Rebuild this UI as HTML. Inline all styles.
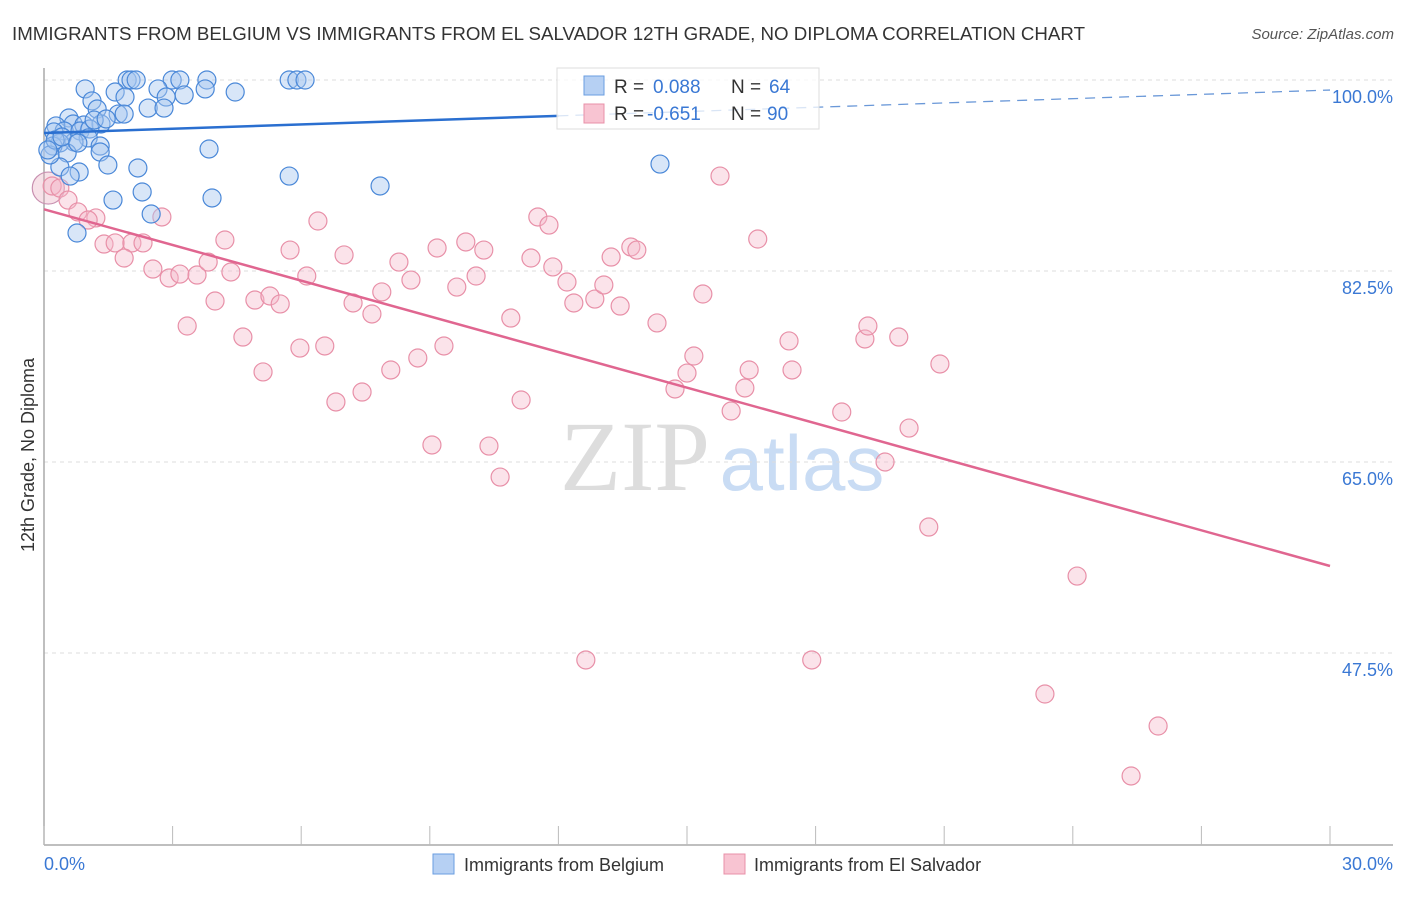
<!DOCTYPE html>
<html><head><meta charset="utf-8"><style>
body{margin:0;background:#fff;font-family:"Liberation Sans",sans-serif}
</style></head><body>
<svg id="chart" width="1406" height="892" viewBox="0 0 1406 892" xmlns="http://www.w3.org/2000/svg" font-family="Liberation Sans, sans-serif">
<text x="12" y="40" font-size="18" fill="#333" textLength="1073" lengthAdjust="spacingAndGlyphs">IMMIGRANTS FROM BELGIUM VS IMMIGRANTS FROM EL SALVADOR 12TH GRADE, NO DIPLOMA CORRELATION CHART</text>
<text x="1394" y="39" font-size="15" fill="#555" font-style="italic" text-anchor="end">Source: ZipAtlas.com</text>
<g>
<text x="635" y="490" font-size="100" font-family="Liberation Serif, serif" fill="#ddd" text-anchor="middle">ZIP</text>
<text x="802" y="490" font-size="78" fill="#c9dcf4" text-anchor="middle">atlas</text>
</g>
<g id="grid"></g>
<g id="axes"></g>
<g id="marks"></g>
<g>
<rect x="557" y="68" width="262" height="61" fill="#fff" fill-opacity="0.75" stroke="#ddd"/>
<rect x="584" y="76" width="20" height="19" fill="#b6d0f3" stroke="#6a9ee0"/>
<rect x="584" y="104" width="20" height="19" fill="#f8c4d2" stroke="#e890a8"/>
<text x="614" y="93" font-size="19" fill="#333">R = </text><text x="653" y="93" font-size="19" fill="#3a78d4">0.088</text>
<text x="731" y="93" font-size="19" fill="#333">N = </text><text x="769" y="93" font-size="19" fill="#3a78d4">64</text>
<text x="614" y="120" font-size="19" fill="#333">R = </text><text x="647" y="120" font-size="19" fill="#3a78d4">-0.651</text>
<text x="731" y="120" font-size="19" fill="#333">N = </text><text x="767" y="120" font-size="19" fill="#3a78d4">90</text>
</g>
<g>
<rect x="433" y="854" width="21" height="20" fill="#b6d0f3" stroke="#6a9ee0"/>
<text x="464" y="871" font-size="18" fill="#333">Immigrants from Belgium</text>
<rect x="724" y="854" width="21" height="20" fill="#f8c4d2" stroke="#e890a8"/>
<text x="754" y="871" font-size="18" fill="#333">Immigrants from El Salvador</text>
</g>
<text transform="translate(34,455) rotate(-90)" font-size="18" fill="#333" text-anchor="middle">12th Grade, No Diploma</text>
</svg>
<script>
const yTicks=[100,82.5,65,47.5];
const yTickLabels=["100.0%","82.5%","65.0%","47.5%"];
const xTickLabels=["0.0%","30.0%"];
const belgiumX=[0.96,1.94,2.03,2.15,2.99,3.17,3.80,5.72,5.90,6.09,1.66,2.66,3.27,3.76,4.46,1.89,2.85,2.43,2.80,1.12,1.24,1.73,1.87,0.58,0.28,0.68,0.93,1.33,0.47,0.84,0.23,1.07,1.03,0.70,0.37,1.31,0.21,0.54,1.31,3.85,2.19,1.49,0.37,0.82,0.61,5.72,7.84,2.29,1.61,3.92,2.50,0.77,14.37,0.14,0.26,0.09,0.42,1.17,1.45,0.79];
const belgiumY=[99.18,100,100,100,100,100,100,100,100,100,98.90,99.18,98.63,99.18,98.90,98.44,98.44,97.43,97.43,98.08,97.34,96.88,96.88,96.52,95.79,95.97,95.88,95.97,95.33,95.33,95.24,95.51,94.69,94.32,94.23,93.95,93.95,93.31,93.40,93.68,91.94,92.21,92.03,91.57,91.20,91.20,90.29,89.74,89.00,89.19,87.72,85.98,92.30,93.13,94.50,93.59,94.78,96.33,96.43,94.23];
const salvX=[0.19,0.37,0.56,0.79,1.21,1.03,2.75,1.40,1.66,2.05,2.31,1.87,2.54,2.92,3.17,3.57,3.83,4.22,4.36,3.99,3.34,4.64,4.92,5.27,5.51,5.11,5.74,6.13,6.39,5.97,6.55,6.81,7.00,7.21,7.42,7.65,7.88,8.09,8.28,8.56,8.72,9.17,9.33,9.05,9.63,9.84,10.08,10.26,10.38,10.64,10.89,11.13,11.36,11.52,11.78,11.87,12.20,12.36,12.85,13.06,13.23,13.44,13.69,13.83,12.64,14.30,14.72,15.00,15.16,15.37,15.77,16.03,16.35,16.45,16.65,17.38,17.45,17.91,18.61,19.15,19.22,19.62,19.94,20.18,20.64,20.90,23.35,24.10,25.99,25.36];
const salvY=[90.29,90.10,89.00,87.91,87.36,87.17,87.45,84.97,85.07,85.07,85.07,83.69,82.68,81.86,82.22,82.13,83.32,85.34,82.41,79.75,77.46,76.45,79.84,80.21,79.48,73.25,84.42,82.04,87.08,75.44,75.63,70.50,83.97,79.57,71.41,78.56,80.58,73.43,83.32,81.67,74.53,84.61,75.63,66.56,81.03,85.16,82.04,84.42,66.46,63.62,78.19,70.68,83.69,87.45,86.71,82.87,81.49,79.57,79.93,81.22,83.78,79.29,84.70,84.42,46.86,77.74,71.69,73.15,74.71,80.39,91.20,69.67,71.78,73.43,85.43,76.09,73.43,46.86,69.58,76.27,77.46,65.00,76.45,68.11,59.04,73.98,43.74,54.55,40.81,36.23];
const belgiumTrend=[95.14,99.08];
const salvTrend=[88.15,55.47];
const xDomain=[0,30];

const NS="http://www.w3.org/2000/svg";
const X=v=>44+(v-xDomain[0])/(xDomain[1]-xDomain[0])*1286;
const Y=v=>80+(100-v)*10.914;
function mk(tag,attrs,parent){const e=document.createElementNS(NS,tag);for(const k in attrs)e.setAttribute(k,attrs[k]);parent.appendChild(e);return e;}
const grid=document.getElementById('grid'),axes=document.getElementById('axes'),marks=document.getElementById('marks');
yTicks.forEach((t,i)=>{
 const l=mk('line',{x1:44,x2:1393,y1:Y(t),y2:Y(t),stroke:'#ddd','stroke-dasharray':'4,4'},grid);
 
 
 const tx=mk('text',{x:1393,y:Y(t)+23,'font-size':18,fill:'#3a78d4','text-anchor':'end'},axes);
 tx.textContent=yTickLabels[i];
 
 
});
const ya=mk('line',{x1:44,x2:44,y1:68,y2:845,stroke:'#aaa','stroke-width':1.5},axes);


const xa=mk('line',{x1:44,x2:1393,y1:845,y2:845,stroke:'#aaa','stroke-width':1.5},axes);


for(let i=0;i<=10;i++){
 const v=xDomain[0]+i*(xDomain[1]-xDomain[0])/10;
 const t=mk('line',{x1:X(v),x2:X(v),y1:826,y2:845,stroke:'#bbb'},axes);
 
 
}
[[xDomain[0],'start',44],[xDomain[1],'end',1393]].forEach((d,i)=>{
 const tx=mk('text',{x:d[2],y:870,'font-size':18,fill:'#3a78d4','text-anchor':d[1]},axes);
 tx.textContent=xTickLabels[i];
 
 
});
const big=mk('circle',{cx:X(0.1),cy:Y(90.1),r:16,fill:'#e8a8bc','fill-opacity':0.35,stroke:'#c890b0','stroke-width':1.2},marks);


salvX.forEach((x,i)=>{
 const c=mk('circle',{cx:X(x),cy:Y(salvY[i]),r:9,fill:'#f6b8ca','fill-opacity':0.4,stroke:'#e890a8','stroke-width':1.2},marks);
 
 
});
belgiumX.forEach((x,i)=>{
 const c=mk('circle',{cx:X(x),cy:Y(belgiumY[i]),r:9,fill:'#a8c8f0','fill-opacity':0.45,stroke:'#4a88d8','stroke-width':1.2},marks);
 
 
});
const bAt=v=>belgiumTrend[0]+(belgiumTrend[1]-belgiumTrend[0])*(v-xDomain[0])/(xDomain[1]-xDomain[0]);
const bs=mk('line',{x1:X(0),y1:Y(bAt(0)),x2:X(12),y2:Y(bAt(12)),stroke:'#2a6fd0','stroke-width':2.5},marks);


const bd=mk('line',{x1:X(12),y1:Y(bAt(12)),x2:X(30),y2:Y(bAt(30)),stroke:'#6a98d8','stroke-width':1.3,'stroke-dasharray':'10,7'},marks);


const ps=mk('line',{x1:X(0),y1:Y(salvTrend[0]),x2:X(30),y2:Y(salvTrend[1]),stroke:'#e06690','stroke-width':2.5},marks);


</script>
</body></html>
